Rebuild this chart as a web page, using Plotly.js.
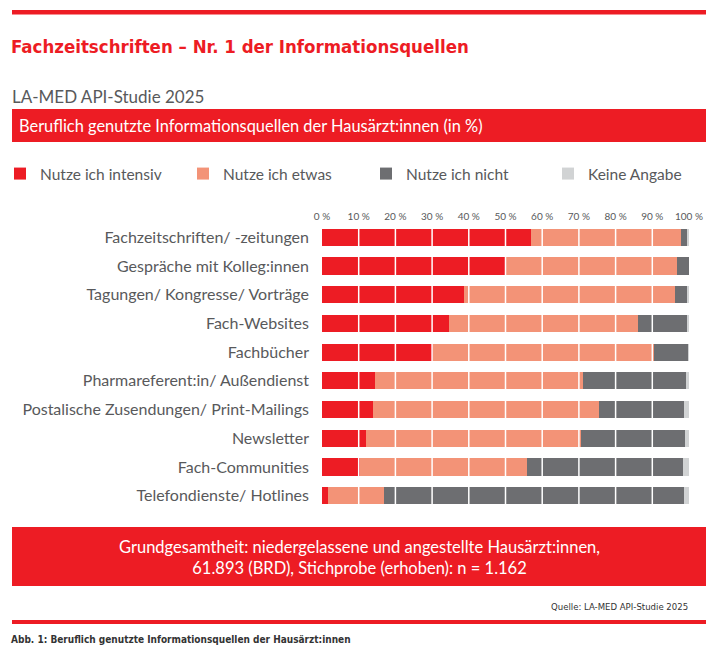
<!DOCTYPE html>
<html>
<head>
<meta charset="utf-8">
<script src="https://cdn.plot.ly/plotly-3.0.1.min.js"></script>
<style>
html,body{margin:0;padding:0;background:#fff;}
#chart{width:715px;height:658px;}
</style>
</head>
<body>
<div id="chart"></div>
<script>
// ---- data ----
const categories = [
  "Fachzeitschriften/ -zeitungen",
  "Gespräche mit Kolleg:innen",
  "Tagungen/ Kongresse/ Vorträge",
  "Fach-Websites",
  "Fachbücher",
  "Pharmareferent:in/ Außendienst",
  "Postalische Zusendungen/ Print-Mailings",
  "Newsletter",
  "Fach-Communities",
  "Telefondienste/ Hotlines"
];
const seriesNames = ["Nutze ich intensiv", "Nutze ich etwas", "Nutze ich nicht", "Keine Angabe"];
const intensiv = [57.0, 50.0, 38.7, 34.6, 30.3, 14.4, 13.9, 11.9, 10.4, 1.5];
const etwas    = [40.7, 46.6, 57.4, 51.5, 60.2, 56.7, 61.5, 58.8, 45.4, 15.3];
const nicht    = [1.8, 3.4, 3.4, 13.4, 9.2, 28.0, 23.1, 28.1, 42.5, 81.7];
const keine    = [0.5, 0.0, 0.5, 0.5, 0.3, 0.9, 1.5, 1.2, 1.7, 1.5];
const tickVals = [0, 10, 20, 30, 40, 50, 60, 70, 80, 90, 100];
const tickText = ["0 %", "10 %", "20 %", "30 %", "40 %", "50 %", "60 %", "70 %", "80 %", "90 %", "100 %"];
const gridVals = [10, 20, 30, 40, 50, 60, 70, 80, 90];

// ---- styling ----
const RED = "#ED1C24", SALMON = "#F39377", DARK = "#6D6E71", LIGHT = "#D1D3D4";
const GREY_TXT = "#58595B";
const colors = [RED, SALMON, DARK, LIGHT];
const values = [intensiv, etwas, nicht, keine];
const legendIds = ["legend", "legend2", "legend3", "legend4"];
const legendX = [0, 183, 366, 548];

const W = 715, H = 658;
const M = {l: 322, r: 26, t: 223, b: 148};
const PW = W - M.l - M.r, PH = H - M.t - M.b;
const px = v => (v - M.l) / PW;
const py = v => (M.t + PH - v) / PH;

const traces = values.map((vals, i) => ({
  type: "bar",
  orientation: "h",
  name: seriesNames[i],
  y: categories,
  x: vals,
  marker: {color: colors[i], line: {width: 0}},
  width: 0.6,
  legend: legendIds[i],
  hoverinfo: "skip"
}));

const FONT = "Lato, 'Noto Sans', sans-serif";
const NARROW = "'DejaVu Sans Condensed', 'Liberation Sans', sans-serif";

const rect = (x0, y0, x1, y1, color) => ({
  type: "rect", xref: "paper", yref: "paper",
  x0: px(x0), x1: px(x1), y0: py(y1), y1: py(y0),
  fillcolor: color, line: {width: 0}, layer: "below"
});

const shapes = [
  rect(12, 10, 706, 14.5, RED),
  rect(12, 109, 706, 142, RED),
  rect(12, 527, 706, 586, RED),
  rect(12, 620, 706, 624, RED)
].concat(gridVals.map(g => ({
  type: "line", xref: "x", yref: "paper",
  x0: g, x1: g, y0: 0, y1: 1,
  line: {color: "#FFFFFF", width: 1.5}, layer: "above"
})));

const ann = (text, x, y, opts) => Object.assign({
  text: text, xref: "paper", yref: "paper",
  x: px(x), y: py(y), showarrow: false,
  xanchor: "left", yanchor: "middle"
}, opts);

const annotations = [
  ann("<b>Fachzeitschriften – Nr. 1 der Informationsquellen</b>", 9, 47,
      {font: {family: NARROW, size: 18.5, color: RED}}),
  ann("LA-MED API-Studie 2025", 10, 96,
      {font: {family: FONT, size: 17, color: GREY_TXT}}),
  ann("Beruflich genutzte Informationsquellen der Hausärzt:innen (in %)", 17, 126,
      {font: {family: FONT, size: 16.4, color: "#FFFFFF"}}),
  ann("Grundgesamtheit: niedergelassene und angestellte Hausärzt:innen,<br>61.893 (BRD), Stichprobe (erhoben): n = 1.162", 359, 557,
      {xanchor: "center", align: "center", font: {family: FONT, size: 16.5, color: "#FFFFFF"}}),
  ann("Quelle: LA-MED API-Studie 2025", 690, 606,
      {xanchor: "right", font: {family: NARROW, size: 9.5, color: "#333333"}}),
  ann("<b>Abb. 1: Beruflich genutzte Informationsquellen der Hausärzt:innen</b>", 9, 639,
      {font: {family: NARROW, size: 10, color: "#333333"}})
];

const layout = {
  width: W, height: H,
  margin: M,
  paper_bgcolor: "#FFFFFF",
  plot_bgcolor: "#FFFFFF",
  barmode: "stack",
  bargap: 0.4,
  font: {family: FONT, color: GREY_TXT},
  xaxis: {
    range: [0, 100], side: "top", tickvals: tickVals, ticktext: tickText,
    showgrid: false, zeroline: false, showline: false, ticks: "",
    tickfont: {family: FONT, size: 10, color: GREY_TXT}, fixedrange: true
  },
  yaxis: {
    autorange: "reversed", showgrid: false, zeroline: false, showline: false,
    ticks: "", ticklabelstandoff: 12,
    tickfont: {family: FONT, size: 16, color: GREY_TXT}, fixedrange: true
  },
  shapes: shapes,
  annotations: annotations,
  showlegend: true
};
legendIds.forEach((id, i) => {
  layout[id] = {
    xref: "container", yref: "container",
    x: legendX[i] / W, y: 1 - 174 / H, yanchor: "middle", xanchor: "left",
    orientation: "h", bgcolor: "rgba(0,0,0,0)",
    font: {family: FONT, size: 15.5, color: GREY_TXT}
  };
});

Plotly.newPlot("chart", traces, layout, {displayModeBar: false, staticPlot: true});
</script>
</body>
</html>
